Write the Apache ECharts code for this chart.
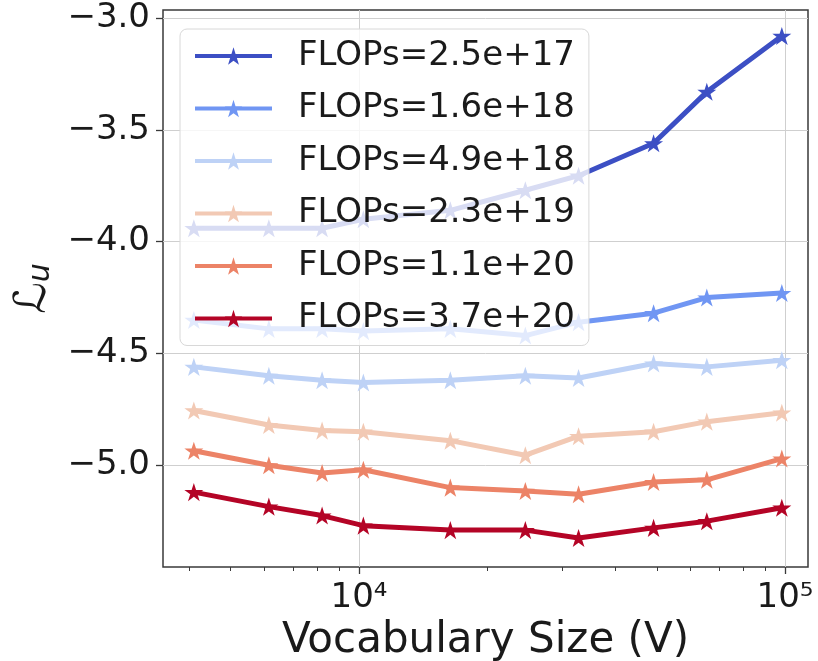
<!DOCTYPE html>
<html>
<head>
<meta charset="utf-8">
<script src="https://cdn.jsdelivr.net/npm/echarts@6/dist/echarts.min.js"></script>
<style>
  html, body { margin: 0; padding: 0; background: #ffffff; }
  #chart { width: 818px; height: 661px; }
</style>
</head>
<body>
<div id="chart"></div>
<script>
// Vocabulary sizes on the (log) x axis
const vocabSizes = [4096, 6144, 8192, 10240, 16384, 24576, 32768, 49152, 65536, 98304];

// One curve per compute budget
const flopsLabels = [
  'FLOPs=2.5e+17', 'FLOPs=1.6e+18', 'FLOPs=4.9e+18',
  'FLOPs=2.3e+19', 'FLOPs=1.1e+20', 'FLOPs=3.7e+20'
];
const lossFlops25e17 = [-3.94, -3.94, -3.94, -3.90, -3.86, -3.77, -3.705, -3.56, -3.33, -3.08];
const lossFlops16e18 = [-4.35, -4.39, -4.39, -4.40, -4.39, -4.42, -4.36, -4.32, -4.25, -4.23];
const lossFlops49e18 = [-4.56, -4.60, -4.62, -4.63, -4.62, -4.60, -4.61, -4.545, -4.56, -4.53];
const lossFlops23e19 = [-4.755, -4.82, -4.845, -4.85, -4.89, -4.955, -4.87, -4.85, -4.805, -4.765];
const lossFlops11e20 = [-4.935, -5.00, -5.035, -5.02, -5.10, -5.115, -5.13, -5.075, -5.065, -4.97];
const lossFlops37e20 = [-5.12, -5.185, -5.225, -5.27, -5.29, -5.29, -5.325, -5.28, -5.25, -5.19];
const lossSeries = [lossFlops25e17, lossFlops16e18, lossFlops49e18, lossFlops23e19, lossFlops11e20, lossFlops37e20];

// Axis ticks
const xMajorTicks = [10000, 100000];
const xMinorTicks = [4000, 5000, 6000, 7000, 8000, 9000, 20000, 30000, 40000, 50000, 60000, 70000, 80000, 90000];
const yTicks = [-5.0, -4.5, -4.0, -3.5, -3.0];

// coolwarm-style palette, cool to warm
const palette = ['#3c4fc4', '#7096f3', '#bed2f6', '#f2c9b4', '#ec8367', '#b40426'];

// five-pointed star marker built from polar points
function starPath() {
  const pts = [];
  for (let i = 0; i < 10; i++) {
    const r = i % 2 === 0 ? 1 : 0.382;
    const a = -Math.PI / 2 + i * Math.PI / 5;
    pts.push((r * Math.cos(a)).toFixed(4) + ' ' + (r * Math.sin(a)).toFixed(4));
  }
  return 'path://M' + pts.join(' L') + ' Z';
}
const STAR = starPath();

const SUP = '⁰¹²³⁴⁵⁶⁷⁸⁹';
function powerLabel(v) {
  const e = Math.round(Math.log10(v));
  return '10' + String(e).split('').map(d => SUP[+d]).join('');
}

const FONT = 'DejaVu Sans';
const xMin = 3467, xMax = 113240;

const chart = echarts.init(document.getElementById('chart'), null, { renderer: 'canvas' });

chart.setOption({
  animation: false,
  backgroundColor: '#ffffff',
  grid: {
    left: 163, right: 10, top: 10, bottom: 94,
    outerBoundsMode: 'none', containLabel: false,
    show: true, borderColor: '#3a3a3a', borderWidth: 1.5, backgroundColor: 'transparent'
  },
  legend: {
    orient: 'vertical',
    left: 180, top: 29,
    backgroundColor: 'rgba(255,255,255,0.8)',
    borderColor: '#d8d8d8', borderWidth: 1, borderRadius: 7,
    padding: [10, 14, 10, 13],
    itemWidth: 77, itemHeight: 22, itemGap: 18.5,
    lineStyle: { width: 4 },
    textStyle: { fontFamily: FONT, fontSize: 34, color: '#1a1a1a', padding: [0, 0, 0, 21] },
    data: flopsLabels
  },
  xAxis: [
    {
      type: 'log', logBase: 10, min: xMin, max: xMax,
      name: 'Vocabulary Size (V)', nameLocation: 'middle', nameGap: 43,
      nameTextStyle: { fontFamily: FONT, fontSize: 42, color: '#1a1a1a' },
      axisLine: { show: false },
      axisTick: { show: true, customValues: xMajorTicks, length: 7, lineStyle: { color: '#3a3a3a', width: 1.3 } },
      axisLabel: {
        customValues: xMajorTicks, margin: 14,
        fontFamily: FONT, fontSize: 34, color: '#1a1a1a',
        formatter: powerLabel
      },
      splitLine: { show: true, lineStyle: { color: '#cfcfcf', width: 1 } }
    },
    {
      type: 'log', logBase: 10, min: xMin, max: xMax, gridIndex: 0, position: 'bottom',
      axisLine: { show: false },
      axisTick: { show: true, customValues: xMinorTicks, length: 4, lineStyle: { color: '#3a3a3a', width: 1 } },
      axisLabel: { show: false },
      splitLine: { show: false }
    }
  ],
  yAxis: {
    type: 'value', min: -5.455, max: -2.964,
    name: '{l|ℒ}{u|u}', nameLocation: 'middle', nameGap: 107, nameRotate: 90,
    nameTextStyle: {
      rich: {
        l: { fontFamily: FONT, fontSize: 44, color: '#1a1a1a' },
        u: { fontFamily: FONT, fontSize: 30, fontStyle: 'italic', color: '#1a1a1a', padding: [14, 0, 0, 0] }
      }
    },
    axisLine: { show: false },
    axisTick: { show: true, customValues: yTicks, length: 7, lineStyle: { color: '#3a3a3a', width: 1.3 } },
    axisLabel: {
      customValues: yTicks, margin: 13,
      fontFamily: FONT, fontSize: 34, color: '#1a1a1a',
      formatter: v => (v < 0 ? '\u2212' : '') + Math.abs(v).toFixed(1)
    },
    splitLine: { show: true, lineStyle: { color: '#cfcfcf', width: 1 } }
  },
  series: lossSeries.map((vals, i) => ({
    name: flopsLabels[i],
    type: 'line',
    xAxisIndex: 0,
    data: vocabSizes.map((v, j) => [v, vals[j]]),
    symbol: STAR,
    symbolKeepAspect: true,
    symbolSize: 19,
    showAllSymbol: true,
    lineStyle: { color: palette[i], width: 5 },
    itemStyle: { color: palette[i] },
    emphasis: { disabled: true },
    z: 2 + i
  }))
});
</script>
</body>
</html>
